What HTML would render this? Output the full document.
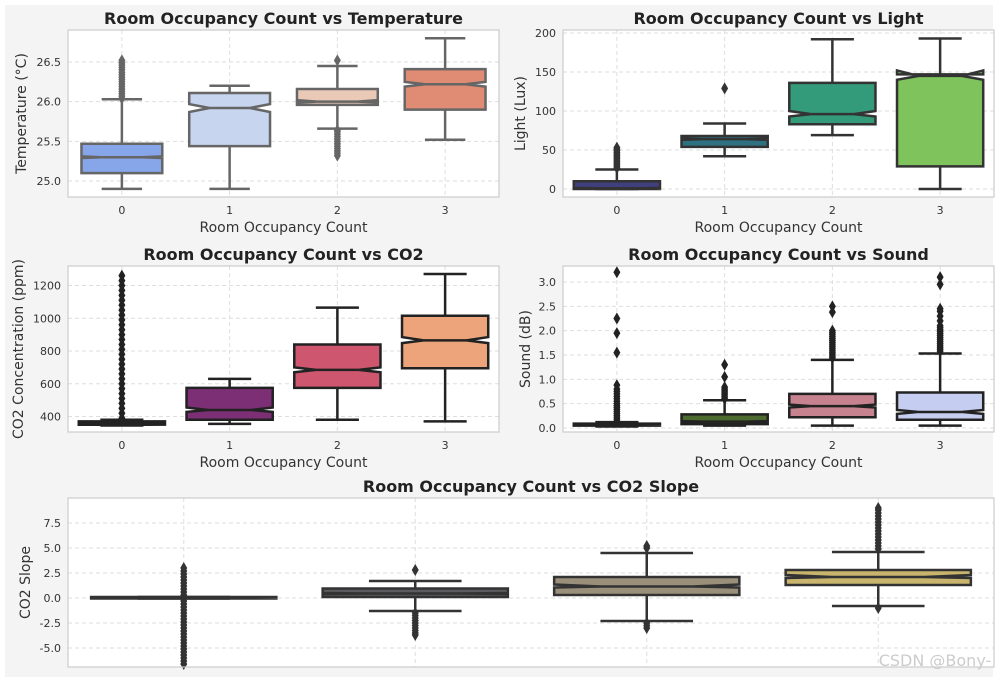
<!DOCTYPE html>
<html><head><meta charset="utf-8">
<style>
body{margin:0;background:#fff;width:998px;height:677px;overflow:hidden;font-family:"DejaVu Sans","Liberation Sans",sans-serif;}
#fig{position:absolute;left:5px;top:5px;width:988px;height:672px;background:#f4f4f4;}
svg{position:absolute;left:0;top:0;}
</style></head>
<body>
<div id="fig"></div>
<svg id="s" width="998" height="677"></svg>
<script>
// ---- data ----
const categories = ["0","1","2","3"];
// Temperature
const tempWhisLo=[24.9,24.9,25.66,25.52], tempQ1=[25.1,25.44,25.96,25.9], tempMed=[25.3,25.92,26.0,26.22], tempQ3=[25.47,26.11,26.16,26.41], tempWhisHi=[26.03,26.2,26.45,26.8];
const tempNotchLo=[25.29,25.87,25.99,26.19], tempNotchHi=[25.31,25.97,26.02,26.25];
const tempFliers=[[26.04,26.07,26.1,26.13,26.16,26.19,26.22,26.25,26.28,26.31,26.34,26.37,26.4,26.43,26.46,26.49,26.52],[],[25.32,25.35,25.38,25.41,25.44,25.47,25.5,25.53,25.56,25.59,25.62,25.64,26.52],[]];
const tempTicks=[25.0,25.5,26.0,26.5];
// Light
const lightWhisLo=[0,42,69,0], lightQ1=[0,54,83,29], lightMed=[1,64,96,145], lightQ3=[10,68,136,147], lightWhisHi=[25,84,192,193];
const lightNotchLo=[0.5,63,93,140], lightNotchHi=[1.5,65,100,152];
const lightFliers=[[27,29,31,33,35,37,39,41,43,45,47,49,51,53],[129],[],[]];
const lightTicks=[0,50,100,150,200];
// CO2
const co2WhisLo=[345,355,380,370], co2Q1=[350,380,575,695], co2Med=[355,440,685,865], co2Q3=[370,575,840,1015], co2WhisHi=[380,630,1065,1270];
const co2NotchLo=[354,428,670,848], co2NotchHi=[356,455,700,885];
const co2Fliers=[[390,420,450,480,510,540,570,600,630,660,690,720,750,780,810,840,870,900,930,960,990,1020,1050,1080,1110,1140,1170,1200,1230,1260],[],[],[]];
const co2Ticks=[400,600,800,1000,1200];
// Sound
const sndWhisLo=[0.03,0.05,0.05,0.05], sndQ1=[0.05,0.08,0.22,0.17], sndMed=[0.07,0.13,0.45,0.33], sndQ3=[0.09,0.28,0.7,0.73], sndWhisHi=[0.12,0.57,1.4,1.53];
const sndNotchLo=[0.068,0.12,0.42,0.29], sndNotchHi=[0.072,0.14,0.48,0.37];
const sndFliers=[[0.14,0.18,0.22,0.26,0.3,0.34,0.38,0.42,0.46,0.5,0.55,0.6,0.65,0.7,0.75,0.8,0.88,1.55,1.95,2.25,3.2],[0.6,0.64,0.68,0.72,0.76,0.8,0.84,1.05,1.3],[1.44,1.48,1.52,1.56,1.6,1.64,1.68,1.72,1.76,1.8,1.84,1.88,1.92,1.96,2.0,2.38,2.5],[1.58,1.62,1.66,1.7,1.74,1.78,1.82,1.86,1.9,1.94,1.98,2.02,2.06,2.1,2.2,2.3,2.4,2.45,2.95,3.1]];
const sndTicks=[0.0,0.5,1.0,1.5,2.0,2.5,3.0];
// CO2 slope
const slWhisLo=[-0.05,-1.3,-2.3,-0.8], slQ1=[-0.05,0.1,0.3,1.3], slMed=[0.03,0.45,1.15,2.1], slQ3=[0.1,0.95,2.1,2.8], slWhisHi=[0.1,1.7,4.5,4.6];
const slNotchLo=[0.0,0.4,1.05,2.0], slNotchHi=[0.06,0.5,1.35,2.3];
const slFliers=[[-6.6,-6.3,-6,-5.7,-5.4,-5.1,-4.8,-4.5,-4.2,-3.9,-3.6,-3.3,-3,-2.7,-2.4,-2.1,-1.8,-1.5,-1.2,-0.9,-0.6,-0.3,0.3,0.6,0.9,1.2,1.5,1.8,2.1,2.4,2.7,3.0],[-1.5,-1.75,-2,-2.25,-2.5,-2.75,-3,-3.25,-3.5,-3.7,2.8],[-2.5,-2.75,-3.0,5.0,5.2],[4.9,5.2,5.5,5.8,6.1,6.4,6.7,7,7.3,7.6,7.9,8.2,8.5,8.8,9,-1]];
const slTicks=[-5.0,-2.5,0.0,2.5,5.0,7.5];

const S=document.getElementById('s');
const NS='http://www.w3.org/2000/svg';
function el(tag,attrs,parent){const e=document.createElementNS(NS,tag);for(const k in attrs)e.setAttribute(k,attrs[k]);(parent||S).appendChild(e);return e;}
function txt(x,y,s,size,opts,parent){const t=el('text',Object.assign({x:x,y:y,'font-size':size,fill:'#333','text-anchor':'middle'},opts||{}),parent);t.textContent=s;return t;}

function panel(p){
  const g=el('g',{});
  
  
  const yS=v=>p.y0px+(v-p.v0)*(p.y1px-p.y0px)/(p.v1-p.v0);
  const n=categories.length, step=(p.r-p.l)/n;
  const xS=i=>p.l+step*(i+0.5);
  el('rect',{x:p.l,y:p.t,width:p.r-p.l,height:p.b-p.t,fill:'#fff'},g);
  p.ticks.forEach(v=>{
    const y=yS(v);
    const gl=el('line',{x1:p.l,x2:p.r,y1:y,y2:y,stroke:'#dedede','stroke-dasharray':'4,3','stroke-width':1},g);
    
    
    const tl=txt(p.l-7,y+4,p.fmt(v),11,{'text-anchor':'end'},g);
    
    
  });
  categories.forEach((c,i)=>{
    const x=xS(i);
    el('line',{x1:x,x2:x,y1:p.t,y2:p.b,stroke:'#dedede','stroke-dasharray':'4,3','stroke-width':1},g);
    if(p.xlabels){
      const tl=txt(x,p.b+17,c,11,{},g);
      
      
    }
  });
  const bw=step*p.wf, cw=bw/2;
  categories.forEach((c,i)=>{
    const x=xS(i), lc=p.line, sw=2.5;
    const bg=el('g',{},g);
    
    
    el('line',{x1:x,x2:x,y1:yS(p.wlo[i]),y2:yS(p.q1[i]),stroke:lc,'stroke-width':sw},bg);
    el('line',{x1:x,x2:x,y1:yS(p.q3[i]),y2:yS(p.whi[i]),stroke:lc,'stroke-width':sw},bg);
    el('line',{x1:x-cw/2,x2:x+cw/2,y1:yS(p.wlo[i]),y2:yS(p.wlo[i]),stroke:lc,'stroke-width':sw},bg);
    el('line',{x1:x-cw/2,x2:x+cw/2,y1:yS(p.whi[i]),y2:yS(p.whi[i]),stroke:lc,'stroke-width':sw},bg);
    const L=x-bw/2,R=x+bw/2,nl=x-bw/4,nr=x+bw/4;
    const yq1=yS(p.q1[i]),yq3=yS(p.q3[i]),ym=yS(p.med[i]),yn1=yS(p.nlo[i]),yn2=yS(p.nhi[i]);
    const pts=[[L,yq1],[L,yn1],[nl,ym],[L,yn2],[L,yq3],[R,yq3],[R,yn2],[nr,ym],[R,yn1],[R,yq1]].map(a=>a.join(',')).join(' ');
    el('polygon',{points:pts,fill:p.colors[i],stroke:lc,'stroke-width':sw,'stroke-linejoin':'miter'},bg);
    el('line',{x1:nl,x2:nr,y1:ym,y2:ym,stroke:lc,'stroke-width':sw},bg);
    p.fliers[i].forEach(v=>{
      const y=yS(v);
      const d=el('polygon',{points:`${x},${y-6} ${x+3.5},${y} ${x},${y+6} ${x-3.5},${y}`,fill:lc},bg);
      
      
    });
  });
  el('rect',{x:p.l,y:p.t,width:p.r-p.l,height:p.b-p.t,fill:'none',stroke:'#cccccc','stroke-width':1.2},g);
  const tt=txt((p.l+p.r)/2,p.t-6,p.title,16,{'font-weight':'bold',fill:'#222'},g);
  
  
  if(p.xlabels){
    const xl=txt((p.l+p.r)/2,p.b+35,'Room Occupancy Count',14,{},g);
    
    
  }
  const yc=(p.t+p.b)/2;
  const yl=txt(p.ylx,yc,p.ylabel,14,{transform:`rotate(-90 ${p.ylx} ${yc})`},g);
  
  
}
const f1=v=>v.toFixed(1), f0=v=>String(v);
panel({name:'temperature-chart',key:'temp',l:68,r:499,t:30,b:197,v0:26.5,v1:25.0,y0px:62,y1px:181,ticks:tempTicks,fmt:f1,wf:0.75,
  wlo:tempWhisLo,q1:tempQ1,med:tempMed,q3:tempQ3,whi:tempWhisHi,nlo:tempNotchLo,nhi:tempNotchHi,fliers:tempFliers,
  colors:['#87a5e9','#c7d5ef','#ebc9b7','#e08b73'],line:'#666',title:'Room Occupancy Count vs Temperature',ylabel:'Temperature (°C)',ylx:26,xlabels:true});
panel({name:'light-chart',key:'light',l:563,r:994,t:30,b:197,v0:200,v1:0,y0px:33,y1px:189,ticks:lightTicks,fmt:f0,wf:0.8,
  wlo:lightWhisLo,q1:lightQ1,med:lightMed,q3:lightQ3,whi:lightWhisHi,nlo:lightNotchLo,nhi:lightNotchHi,fliers:lightFliers,
  colors:['#41407f','#2e7282','#339a7a','#7ec35c'],line:'#333',title:'Room Occupancy Count vs Light',ylabel:'Light (Lux)',ylx:525,xlabels:true});
panel({name:'co2-chart',key:'co2',l:68,r:499,t:266,b:432,v0:1200,v1:400,y0px:285.5,y1px:416.5,ticks:co2Ticks,fmt:f0,wf:0.8,
  wlo:co2WhisLo,q1:co2Q1,med:co2Med,q3:co2Q3,whi:co2WhisHi,nlo:co2NotchLo,nhi:co2NotchHi,fliers:co2Fliers,
  colors:['#2d2236','#7c2f75','#ce566f','#eda47a'],line:'#222',title:'Room Occupancy Count vs CO2',ylabel:'CO2 Concentration (ppm)',ylx:23,xlabels:true});
panel({name:'sound-chart',key:'sound',l:563,r:994,t:266,b:432,v0:3.0,v1:0.0,y0px:282,y1px:428,ticks:sndTicks,fmt:f1,wf:0.8,
  wlo:sndWhisLo,q1:sndQ1,med:sndMed,q3:sndQ3,whi:sndWhisHi,nlo:sndNotchLo,nhi:sndNotchHi,fliers:sndFliers,
  colors:['#1e1e1e','#4d6b2f','#c7828f','#c5cdf0'],line:'#222',title:'Room Occupancy Count vs Sound',ylabel:'Sound (dB)',ylx:530,xlabels:true});
panel({name:'co2-slope-chart',key:'slope',l:68,r:994,t:498,b:667,v0:7.5,v1:-5.0,y0px:523,y1px:648,ticks:slTicks,fmt:f1,wf:0.8,
  wlo:slWhisLo,q1:slQ1,med:slMed,q3:slQ3,whi:slWhisHi,nlo:slNotchLo,nhi:slNotchHi,fliers:slFliers,
  colors:['#2b2b2b','#5b5b5e','#9a8f7a','#c8b46c'],line:'#333',title:'Room Occupancy Count vs CO2 Slope',ylabel:'CO2 Slope',ylx:30,xlabels:false});
const wm=txt(935,666,'CSDN @Bony-',16,{fill:'#ccc'});


</script>
</body></html>
